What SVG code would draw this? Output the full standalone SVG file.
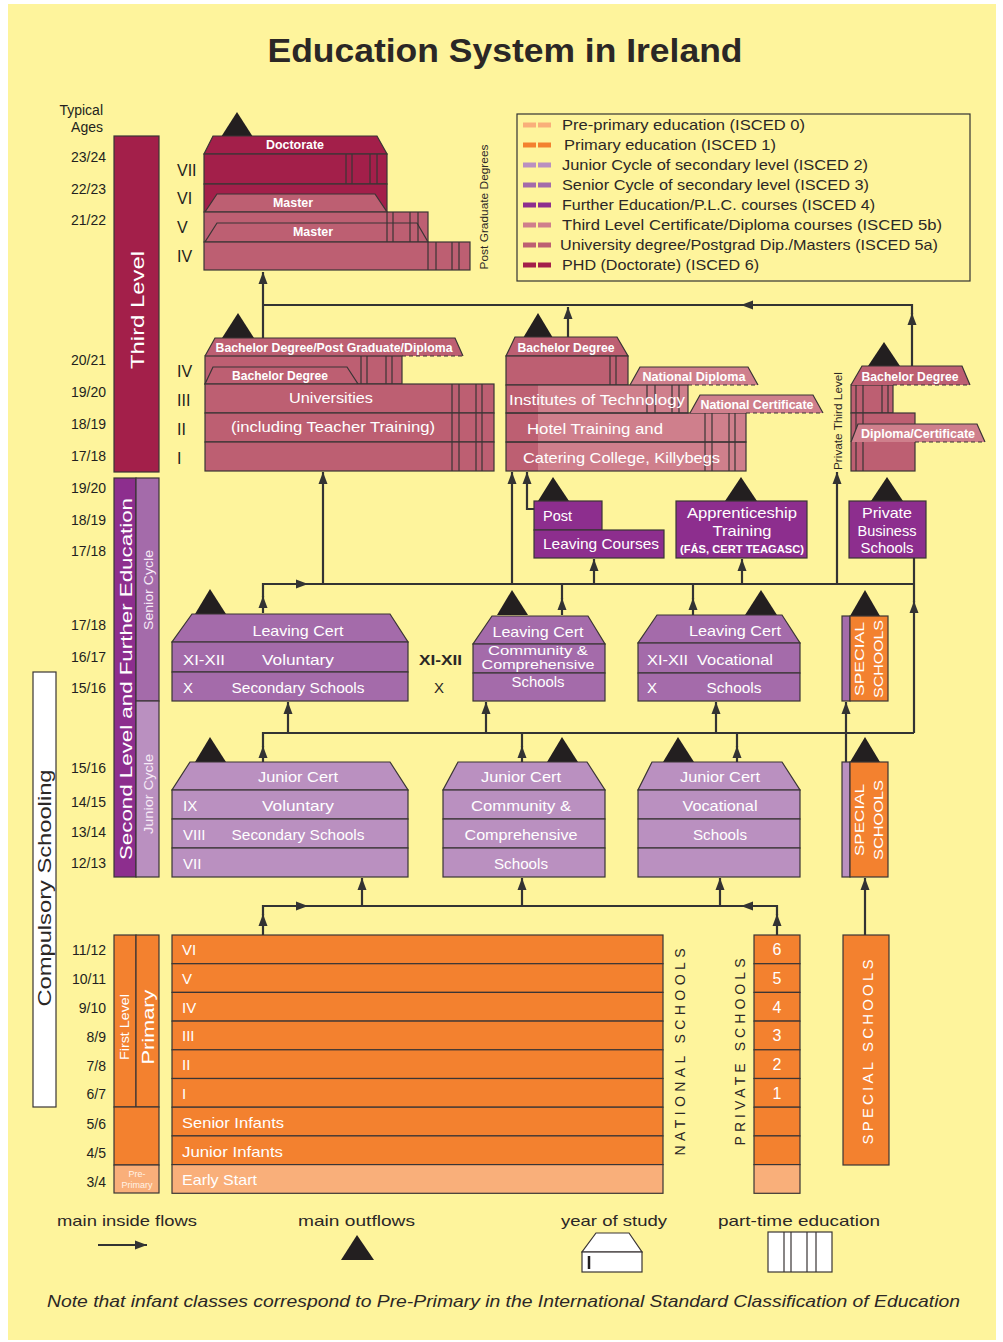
<svg xmlns="http://www.w3.org/2000/svg" width="1003" height="1342" viewBox="0 0 1003 1342">
<defs>
<style>
text{font-family:"Liberation Sans",Arial,sans-serif}
.bx{stroke:#3a3535;stroke-width:1.2}
.nf{fill:none;stroke:#3a3535;stroke-width:1.2}
.dash{stroke:#3a3535;stroke-width:1.2;stroke-dasharray:4 3;fill:none}
.c6{fill:#A31F4A}
.c5a{fill:#BD5F72}
.c5b{fill:#CF7F8C}
.c4{fill:#8D2E8E}
.c3{fill:#A46BAA}
.c2{fill:#BA90C0}
.c1{fill:#F3812F}
.c0{fill:#F9AF7A}
.out{fill:#231F20}
.conn{stroke:#333;stroke-width:2.2;fill:none}
.age{font-size:14px;fill:#231F20;text-anchor:end}
.rn{font-size:16px;fill:#231F20}
.t15{font-size:15px;fill:#fff}
.tb{font-size:12px;font-weight:bold;fill:#fff}
.m{text-anchor:middle}
.lg{font-size:15px;fill:#2b2726}
.sw{stroke-width:5;stroke-dasharray:13 2}
.vt{text-anchor:middle;dominant-baseline:central}
</style>
<marker id="ar" viewBox="0 0 12 10" refX="12" refY="5" markerWidth="12" markerHeight="10" markerUnits="userSpaceOnUse" orient="auto"><path d="M0,0.5 L12,5 L0,9.5 z" fill="#333"/></marker>
</defs>
<rect x="0" y="0" width="1003" height="1342" fill="#fff"/>
<rect x="8" y="4" width="988" height="1336" fill="#FEF49C"/>

<text x="505" y="62" text-anchor="middle" font-size="33" font-weight="bold" fill="#2b2726" textLength="475" lengthAdjust="spacingAndGlyphs">Education System in Ireland</text>

<g id="ages">
<text x="103" y="115" class="age">Typical</text>
<text x="103" y="132" class="age">Ages</text>
<text x="106" y="162" class="age">23/24</text>
<text x="106" y="194" class="age">22/23</text>
<text x="106" y="225" class="age">21/22</text>
<text x="106" y="365" class="age">20/21</text>
<text x="106" y="397" class="age">19/20</text>
<text x="106" y="429" class="age">18/19</text>
<text x="106" y="461" class="age">17/18</text>
<text x="106" y="493" class="age">19/20</text>
<text x="106" y="525" class="age">18/19</text>
<text x="106" y="556" class="age">17/18</text>
<text x="106" y="630" class="age">17/18</text>
<text x="106" y="662" class="age">16/17</text>
<text x="106" y="693" class="age">15/16</text>
<text x="106" y="773" class="age">15/16</text>
<text x="106" y="807" class="age">14/15</text>
<text x="106" y="837" class="age">13/14</text>
<text x="106" y="868" class="age">12/13</text>
<text x="106" y="955" class="age">11/12</text>
<text x="106" y="984" class="age">10/11</text>
<text x="106" y="1013" class="age">9/10</text>
<text x="106" y="1042" class="age">8/9</text>
<text x="106" y="1071" class="age">7/8</text>
<text x="106" y="1099" class="age">6/7</text>
<text x="106" y="1129" class="age">5/6</text>
<text x="106" y="1158" class="age">4/5</text>
<text x="106" y="1187" class="age">3/4</text>
</g>

<g id="level-bars">
<rect x="114" y="136" width="45" height="336" class="c6 bx"/>
<text class="vt" transform="translate(137,310) rotate(-90)" font-size="19" fill="#fff" textLength="118" lengthAdjust="spacingAndGlyphs">Third Level</text>
<rect x="114" y="478" width="22" height="399" class="c4 bx"/>
<rect x="136" y="478" width="23" height="223" class="c3 bx"/>
<rect x="136" y="701" width="23" height="176" class="c2 bx"/>
<text class="vt" transform="translate(126,679) rotate(-90)" font-size="17" fill="#fff" textLength="362" lengthAdjust="spacingAndGlyphs">Second Level and Further Education</text>
<text class="vt" transform="translate(148,590) rotate(-90)" font-size="13" fill="#f6eaf6" textLength="80" lengthAdjust="spacingAndGlyphs">Senior Cycle</text>
<text class="vt" transform="translate(148,794) rotate(-90)" font-size="13" fill="#f6eaf6" textLength="80" lengthAdjust="spacingAndGlyphs">Junior Cycle</text>
<rect x="114" y="935" width="22" height="172" class="c1 bx"/>
<rect x="136" y="935" width="23" height="172" class="c1 bx"/>
<rect x="114" y="1107" width="45" height="58" class="c1 bx"/>
<rect x="114" y="1165" width="45" height="28" class="c0 bx"/>
<text class="vt" transform="translate(125,1027) rotate(-90)" font-size="12" fill="#fff" textLength="66" lengthAdjust="spacingAndGlyphs">First Level</text>
<text class="vt" transform="translate(148,1027) rotate(-90)" font-size="16" fill="#fff" textLength="75" lengthAdjust="spacingAndGlyphs">Primary</text>
<text x="137" y="1177" class="m" font-size="9" fill="#fff3e6">Pre-</text>
<text x="137" y="1188" class="m" font-size="9" fill="#fff3e6">Primary</text>
</g>

<g id="compulsory">
<rect x="33" y="672" width="23" height="435" fill="#fff" class="bx"/>
<text class="vt" transform="translate(45,888) rotate(-90)" font-size="18" fill="#2b2726" textLength="237" lengthAdjust="spacingAndGlyphs">Compulsory Schooling</text>
</g>

<g id="legend">
<rect x="517" y="114" width="453" height="167" fill="none" stroke="#333" stroke-width="1.2"/>
<line x1="523" y1="125" x2="551" y2="125" class="sw" stroke="#F9AF7A"/>
<line x1="523" y1="145" x2="551" y2="145" class="sw" stroke="#F3812F"/>
<line x1="523" y1="165" x2="551" y2="165" class="sw" stroke="#BA90C0"/>
<line x1="523" y1="185" x2="551" y2="185" class="sw" stroke="#A46BAA"/>
<line x1="523" y1="205" x2="551" y2="205" class="sw" stroke="#8D2E8E"/>
<line x1="523" y1="225" x2="551" y2="225" class="sw" stroke="#CF7F8C"/>
<line x1="523" y1="245" x2="551" y2="245" class="sw" stroke="#BD5F72"/>
<line x1="523" y1="265" x2="551" y2="265" class="sw" stroke="#A31F4A"/>
<text x="562" y="130" class="lg" textLength="243" lengthAdjust="spacingAndGlyphs">Pre-primary education (ISCED 0)</text>
<text x="564" y="150" class="lg" textLength="212" lengthAdjust="spacingAndGlyphs">Primary education (ISCED 1)</text>
<text x="562" y="170" class="lg" textLength="306" lengthAdjust="spacingAndGlyphs">Junior Cycle of secondary level (ISCED 2)</text>
<text x="562" y="190" class="lg" textLength="307" lengthAdjust="spacingAndGlyphs">Senior Cycle of secondary level (ISCED 3)</text>
<text x="562" y="210" class="lg" textLength="313" lengthAdjust="spacingAndGlyphs">Further Education/P.L.C. courses (ISCED 4)</text>
<text x="562" y="230" class="lg" textLength="380" lengthAdjust="spacingAndGlyphs">Third Level Certificate/Diploma courses (ISCED 5b)</text>
<text x="560" y="250" class="lg" textLength="378" lengthAdjust="spacingAndGlyphs">University degree/Postgrad Dip./Masters (ISCED 5a)</text>
<text x="562" y="270" class="lg" textLength="197" lengthAdjust="spacingAndGlyphs">PHD (Doctorate) (ISCED 6)</text>
</g>

<g id="postgraduate">
<polygon points="237,112 221,137 253,137" class="out"/>
<polygon points="213,136 377,136 387,154 204,154" class="c6 bx"/>
<text x="295" y="149" class="tb m" textLength="58" lengthAdjust="spacingAndGlyphs">Doctorate</text>
<rect x="204" y="154" width="183" height="30" class="c6 bx"/>
<path d="M346,154V184M352,154V184M370,154V184M377,154V184" class="nf"/>
<rect x="204" y="184" width="183" height="28" class="c6 bx"/>
<polygon points="217,194 375,194 387,212 205,212" class="c5a bx"/>
<text x="293" y="207" class="tb m" textLength="40" lengthAdjust="spacingAndGlyphs">Master</text>
<rect x="204" y="212" width="224" height="30" class="c5a bx"/>
<polygon points="217,223 417,223 428,242 205,242" class="c5a bx"/>
<path d="M387,212V242M393,212V242M410,212V242M418,212V242" class="nf"/>
<text x="313" y="236" class="tb m" textLength="40" lengthAdjust="spacingAndGlyphs">Master</text>
<rect x="204" y="242" width="266" height="28" class="c5a bx"/>
<path d="M428,242V270M436,242V270M452,242V270M459,242V270" class="nf"/>
<text x="177" y="176" class="rn">VII</text>
<text x="177" y="204" class="rn">VI</text>
<text x="177" y="233" class="rn">V</text>
<text x="177" y="262" class="rn">IV</text>
<text class="vt" transform="translate(484,207) rotate(-90)" font-size="11" fill="#2b2726" textLength="125" lengthAdjust="spacingAndGlyphs">Post Graduate Degrees</text>
</g>

<g id="universities">
<polygon points="238,313 222,338 254,338" class="out"/>
<polygon points="215,338 455,338 463,356 205,356" class="c5a"/>
<polyline points="205,356 215,338 455,338 463,356" class="nf"/>
<line x1="402" y1="356" x2="463" y2="356" class="dash"/>
<text x="334" y="352" class="tb m" textLength="237" lengthAdjust="spacingAndGlyphs">Bachelor Degree/Post Graduate/Diploma</text>
<rect x="205" y="356" width="197" height="28" class="c5a bx"/>
<path d="M361,356V384M367,356V384M386,356V384M392,356V384" class="nf"/>
<polygon points="213,367 347,367 358,384 205,384" class="c5a bx"/>
<text x="280" y="380" class="tb m" textLength="96" lengthAdjust="spacingAndGlyphs">Bachelor Degree</text>
<rect x="205" y="384" width="289" height="29" class="c5a bx"/>
<rect x="205" y="413" width="289" height="29" class="c5a bx"/>
<rect x="205" y="442" width="289" height="29" class="c5a bx"/>
<path d="M452,384V471M459,384V471M476,384V471M482,384V471" class="nf"/>
<text x="331" y="403" class="t15 m" textLength="84" lengthAdjust="spacingAndGlyphs">Universities</text>
<text x="333" y="432" class="t15 m" textLength="204" lengthAdjust="spacingAndGlyphs">(including Teacher Training)</text>
<text x="177" y="377" class="rn">IV</text>
<text x="177" y="406" class="rn">III</text>
<text x="177" y="435" class="rn">II</text>
<text x="177" y="464" class="rn">I</text>
</g>

<g id="institutes-of-technology">
<polygon points="538,313 523,338 553,338" class="out"/>
<polygon points="515,337 617,337 628,356 506,356" class="c5a bx"/>
<text x="566" y="352" class="tb m" textLength="97" lengthAdjust="spacingAndGlyphs">Bachelor Degree</text>
<rect x="506" y="356" width="122" height="29" class="c5a bx"/>
<path d="M610,356V385M616,356V385" class="nf"/>
<polygon points="640,367 748,367 758,385 630,385" class="c5b"/>
<polyline points="630,385 640,367 748,367 758,385" class="nf"/>
<line x1="688" y1="385" x2="758" y2="385" class="dash"/>
<text x="694" y="381" class="tb m" textLength="103" lengthAdjust="spacingAndGlyphs">National Diploma</text>
<rect x="506" y="385" width="182" height="28" class="c5b"/>
<rect x="506" y="413" width="240" height="58" class="c5b"/>
<rect x="506" y="385" width="32" height="86" class="c5a"/>
<rect x="506" y="385" width="182" height="28" class="nf"/>
<rect x="506" y="413" width="240" height="29" class="nf"/>
<rect x="506" y="442" width="240" height="29" class="nf"/>
<path d="M647,385V413M655,385V413M672,385V413M679,385V413M705,413V471M712,413V471M729,413V471M735,413V471" class="nf"/>
<polygon points="700,395 813,395 823,413 690,413" class="c5b"/>
<polyline points="690,413 700,395 813,395 823,413" class="nf"/>
<line x1="746" y1="413" x2="823" y2="413" class="dash"/>
<text x="757" y="409" class="tb m" textLength="113" lengthAdjust="spacingAndGlyphs">National Certificate</text>
<text x="509" y="405" class="t15" textLength="176" lengthAdjust="spacingAndGlyphs">Institutes of Technology</text>
<text x="527" y="434" class="t15" textLength="136" lengthAdjust="spacingAndGlyphs">Hotel Training and</text>
<text x="523" y="463" class="t15" textLength="197" lengthAdjust="spacingAndGlyphs">Catering College, Killybegs</text>
</g>

<g id="private-third-level">
<text class="vt" transform="translate(838,421) rotate(-90)" font-size="11" fill="#2b2726" textLength="98" lengthAdjust="spacingAndGlyphs">Private Third Level</text>
<polygon points="884,342 868,366 900,366" class="out"/>
<rect x="851" y="385" width="42" height="28" class="c5a bx"/>
<rect x="851" y="413" width="64" height="58" class="c5a bx"/>
<path d="M856,385V471M863,385V471M882,385V413M888,385V413" class="nf"/>
<polygon points="862,366 962,366 970,385 851,385" class="c5a"/>
<polyline points="851,385 862,366 962,366 970,385" class="nf"/>
<line x1="893" y1="385" x2="970" y2="385" class="dash"/>
<text x="910" y="381" class="tb m" textLength="97" lengthAdjust="spacingAndGlyphs">Bachelor Degree</text>
<polygon points="858,424 977,424 985,442 851,442" class="c5b"/>
<polyline points="851,442 858,424 977,424 985,442" class="nf"/>
<line x1="915" y1="442" x2="985" y2="442" class="dash"/>
<text x="918" y="438" class="tb m" textLength="114" lengthAdjust="spacingAndGlyphs">Diploma/Certificate</text>
</g>

<g id="post-leaving-courses">
<polygon points="553,477 538,501 569,501" class="out"/>
<rect x="534" y="501" width="68" height="29" class="c4 bx"/>
<rect x="534" y="530" width="130" height="28" class="c4 bx"/>
<text x="543" y="521" class="t15" textLength="29" lengthAdjust="spacingAndGlyphs">Post</text>
<text x="543" y="549" class="t15" textLength="116" lengthAdjust="spacingAndGlyphs">Leaving Courses</text>
</g>

<g id="apprenticeship">
<polygon points="741,477 725,501 757,501" class="out"/>
<rect x="676" y="501" width="131" height="57" class="c4 bx"/>
<text x="742" y="518" class="t15 m" textLength="110" lengthAdjust="spacingAndGlyphs">Apprenticeship</text>
<text x="742" y="536" class="t15 m" textLength="59" lengthAdjust="spacingAndGlyphs">Training</text>
<text x="742" y="553" class="m" font-size="10" font-weight="bold" fill="#fff" textLength="124" lengthAdjust="spacingAndGlyphs">(FÁS, CERT TEAGASC)</text>
</g>

<g id="private-business-schools">
<polygon points="887,477 871,501 903,501" class="out"/>
<rect x="849" y="501" width="77" height="57" class="c4 bx"/>
<text x="887" y="518" class="t15 m" textLength="50" lengthAdjust="spacingAndGlyphs">Private</text>
<text x="887" y="536" class="t15 m" textLength="59" lengthAdjust="spacingAndGlyphs">Business</text>
<text x="887" y="553" class="t15 m" textLength="53" lengthAdjust="spacingAndGlyphs">Schools</text>
</g>

<g id="lc-voluntary-secondary">
<polygon points="210,589 195,614 226,614" class="out"/>
<polygon points="192,614 390,614 408,642 172,642" class="c3 bx"/>
<rect x="172" y="642" width="236" height="30" class="c3 bx"/>
<rect x="172" y="672" width="236" height="29" class="c3 bx"/>
<text x="298" y="636" class="t15 m" textLength="91" lengthAdjust="spacingAndGlyphs">Leaving Cert</text>
<text x="183" y="665" class="t15" textLength="42" lengthAdjust="spacingAndGlyphs">XI-XII</text>
<text x="298" y="665" class="t15 m" textLength="72" lengthAdjust="spacingAndGlyphs">Voluntary</text>
<text x="183" y="693" class="t15">X</text>
<text x="298" y="693" class="t15 m" textLength="133" lengthAdjust="spacingAndGlyphs">Secondary Schools</text>
</g>

<g id="senior-years">
<text x="419" y="665" font-size="15" font-weight="bold" fill="#2b2726" textLength="43" lengthAdjust="spacingAndGlyphs">XI-XII</text>
<text x="434" y="693" font-size="15" fill="#2b2726">X</text>
</g>

<g id="lc-community-comprehensive">
<polygon points="512,590 497,615 528,615" class="out"/>
<polygon points="492,616 588,616 605,644 473,644" class="c3 bx"/>
<rect x="473" y="644" width="132" height="29" class="c3 bx"/>
<rect x="473" y="673" width="132" height="28" class="c3 bx"/>
<text x="538" y="637" class="t15 m" textLength="91" lengthAdjust="spacingAndGlyphs">Leaving Cert</text>
<text x="538" y="655" class="m" font-size="13" fill="#fff" textLength="100" lengthAdjust="spacingAndGlyphs">Community &amp;</text>
<text x="538" y="669" class="m" font-size="13" fill="#fff" textLength="113" lengthAdjust="spacingAndGlyphs">Comprehensive</text>
<text x="538" y="687" class="t15 m" textLength="53" lengthAdjust="spacingAndGlyphs">Schools</text>
</g>

<g id="lc-vocational">
<polygon points="761,590 745,615 777,615" class="out"/>
<polygon points="657,615 782,615 800,643 638,643" class="c3 bx"/>
<rect x="638" y="643" width="162" height="30" class="c3 bx"/>
<rect x="638" y="673" width="162" height="28" class="c3 bx"/>
<text x="735" y="636" class="t15 m" textLength="92" lengthAdjust="spacingAndGlyphs">Leaving Cert</text>
<text x="647" y="665" class="t15" textLength="41" lengthAdjust="spacingAndGlyphs">XI-XII</text>
<text x="697" y="665" class="t15" textLength="76" lengthAdjust="spacingAndGlyphs">Vocational</text>
<text x="647" y="693" class="t15">X</text>
<text x="734" y="693" class="t15 m" textLength="55" lengthAdjust="spacingAndGlyphs">Schools</text>
</g>

<g id="special-schools-senior">
<polygon points="865,590 850,616 880,616" class="out"/>
<rect x="842" y="616" width="8" height="85" class="c3 bx"/>
<rect x="850" y="616" width="38" height="85" class="c1 bx"/>
<text class="vt" transform="translate(860,659) rotate(-90)" font-size="12" fill="#fff" textLength="74" lengthAdjust="spacingAndGlyphs">SPECIAL</text>
<text class="vt" transform="translate(879,659) rotate(-90)" font-size="12" fill="#fff" textLength="78" lengthAdjust="spacingAndGlyphs">SCHOOLS</text>
</g>

<g id="jc-voluntary-secondary">
<polygon points="210,737 195,762 226,762" class="out"/>
<polygon points="190,762 390,762 408,790 172,790" class="c2 bx"/>
<rect x="172" y="790" width="236" height="29" class="c2 bx"/>
<rect x="172" y="819" width="236" height="29" class="c2 bx"/>
<rect x="172" y="848" width="236" height="29" class="c2 bx"/>
<text x="298" y="782" class="t15 m" textLength="80" lengthAdjust="spacingAndGlyphs">Junior Cert</text>
<text x="183" y="811" class="t15">IX</text>
<text x="298" y="811" class="t15 m" textLength="72" lengthAdjust="spacingAndGlyphs">Voluntary</text>
<text x="183" y="840" class="t15">VIII</text>
<text x="298" y="840" class="t15 m" textLength="133" lengthAdjust="spacingAndGlyphs">Secondary Schools</text>
<text x="183" y="869" class="t15">VII</text>
</g>

<g id="jc-community-comprehensive">
<polygon points="562,737 547,762 578,762" class="out"/>
<polygon points="458,762 587,762 605,790 443,790" class="c2 bx"/>
<rect x="443" y="790" width="162" height="29" class="c2 bx"/>
<rect x="443" y="819" width="162" height="29" class="c2 bx"/>
<rect x="443" y="848" width="162" height="29" class="c2 bx"/>
<text x="521" y="782" class="t15 m" textLength="80" lengthAdjust="spacingAndGlyphs">Junior Cert</text>
<text x="521" y="811" class="t15 m" textLength="100" lengthAdjust="spacingAndGlyphs">Community &amp;</text>
<text x="521" y="840" class="t15 m" textLength="113" lengthAdjust="spacingAndGlyphs">Comprehensive</text>
<text x="521" y="869" class="t15 m" textLength="54" lengthAdjust="spacingAndGlyphs">Schools</text>
</g>

<g id="jc-vocational">
<polygon points="678,737 663,762 694,762" class="out"/>
<polygon points="652,762 782,762 800,790 638,790" class="c2 bx"/>
<rect x="638" y="790" width="162" height="29" class="c2 bx"/>
<rect x="638" y="819" width="162" height="29" class="c2 bx"/>
<rect x="638" y="848" width="162" height="29" class="c2 bx"/>
<text x="720" y="782" class="t15 m" textLength="80" lengthAdjust="spacingAndGlyphs">Junior Cert</text>
<text x="720" y="811" class="t15 m" textLength="75" lengthAdjust="spacingAndGlyphs">Vocational</text>
<text x="720" y="840" class="t15 m" textLength="54" lengthAdjust="spacingAndGlyphs">Schools</text>
</g>

<g id="special-schools-junior">
<polygon points="865,737 850,762 880,762" class="out"/>
<rect x="842" y="762" width="8" height="115" class="c2 bx"/>
<rect x="850" y="762" width="38" height="115" class="c1 bx"/>
<text class="vt" transform="translate(860,820) rotate(-90)" font-size="12" fill="#fff" textLength="72" lengthAdjust="spacingAndGlyphs">SPECIAL</text>
<text class="vt" transform="translate(879,820) rotate(-90)" font-size="12" fill="#fff" textLength="80" lengthAdjust="spacingAndGlyphs">SCHOOLS</text>
</g>

<g id="national-schools">
<rect x="172" y="935" width="491" height="28.7" class="c1 bx"/>
<rect x="172" y="963.7" width="491" height="28.7" class="c1 bx"/>
<rect x="172" y="992.4" width="491" height="28.7" class="c1 bx"/>
<rect x="172" y="1021.1" width="491" height="28.7" class="c1 bx"/>
<rect x="172" y="1049.8" width="491" height="28.7" class="c1 bx"/>
<rect x="172" y="1078.5" width="491" height="28.7" class="c1 bx"/>
<rect x="172" y="1107.2" width="491" height="28.7" class="c1 bx"/>
<rect x="172" y="1135.9" width="491" height="28.7" class="c1 bx"/>
<rect x="172" y="1164.6" width="491" height="28.7" class="c0 bx"/>
<text x="182" y="955" class="t15">VI</text>
<text x="182" y="984" class="t15">V</text>
<text x="182" y="1013" class="t15">IV</text>
<text x="182" y="1041" class="t15">III</text>
<text x="182" y="1070" class="t15">II</text>
<text x="182" y="1099" class="t15">I</text>
<text x="182" y="1128" class="t15" textLength="102" lengthAdjust="spacingAndGlyphs">Senior Infants</text>
<text x="182" y="1157" class="t15" textLength="101" lengthAdjust="spacingAndGlyphs">Junior Infants</text>
<text x="182" y="1185" class="t15" textLength="75" lengthAdjust="spacingAndGlyphs">Early Start</text>
<text class="vt" transform="translate(680,1052) rotate(-90)" font-size="14" fill="#2b2726" textLength="207" lengthAdjust="spacing">NATIONAL SCHOOLS</text>
</g>

<g id="private-schools">
<rect x="754" y="935" width="46" height="28.7" class="c1 bx"/>
<rect x="754" y="963.7" width="46" height="28.7" class="c1 bx"/>
<rect x="754" y="992.4" width="46" height="28.7" class="c1 bx"/>
<rect x="754" y="1021.1" width="46" height="28.7" class="c1 bx"/>
<rect x="754" y="1049.8" width="46" height="28.7" class="c1 bx"/>
<rect x="754" y="1078.5" width="46" height="28.7" class="c1 bx"/>
<rect x="754" y="1107.2" width="46" height="28.7" class="c1 bx"/>
<rect x="754" y="1135.9" width="46" height="28.7" class="c1 bx"/>
<rect x="754" y="1164.6" width="46" height="28.7" class="c0 bx"/>
<text x="777" y="955" class="m" font-size="16" fill="#fff">6</text>
<text x="777" y="984" class="m" font-size="16" fill="#fff">5</text>
<text x="777" y="1013" class="m" font-size="16" fill="#fff">4</text>
<text x="777" y="1041" class="m" font-size="16" fill="#fff">3</text>
<text x="777" y="1070" class="m" font-size="16" fill="#fff">2</text>
<text x="777" y="1099" class="m" font-size="16" fill="#fff">1</text>
<text class="vt" transform="translate(740,1052) rotate(-90)" font-size="14" fill="#2b2726" textLength="187" lengthAdjust="spacing">PRIVATE SCHOOLS</text>
</g>

<g id="special-schools-primary">
<rect x="843" y="935" width="46" height="230" class="c1 bx"/>
<text class="vt" transform="translate(867,1052) rotate(-90)" font-size="15" fill="#fff" textLength="185" lengthAdjust="spacing">SPECIAL SCHOOLS</text>
</g>

<g id="connectors">
<path d="M263,338V272" class="conn" marker-end="url(#ar)"/>
<path d="M568,337V307" class="conn" marker-end="url(#ar)"/>
<path d="M912,366V313" class="conn" marker-end="url(#ar)"/>
<path d="M912,314V305H741" class="conn" marker-end="url(#ar)"/>
<path d="M742,305H263" class="conn"/>
<path d="M263,613V596" class="conn" marker-end="url(#ar)"/>
<path d="M263,597V584H308" class="conn" marker-end="url(#ar)"/>
<path d="M307,584H914" class="conn"/>
<path d="M562,615V598" class="conn" marker-end="url(#ar)"/>
<path d="M562,599V584" class="conn"/>
<path d="M693,615V598" class="conn" marker-end="url(#ar)"/>
<path d="M693,599V584" class="conn"/>
<path d="M323,584V472" class="conn" marker-end="url(#ar)"/>
<path d="M512,584V472" class="conn" marker-end="url(#ar)"/>
<path d="M534,509H527V472" class="conn" marker-end="url(#ar)"/>
<path d="M594,584V559" class="conn" marker-end="url(#ar)"/>
<path d="M742,584V559" class="conn" marker-end="url(#ar)"/>
<path d="M837,584V472" class="conn" marker-end="url(#ar)"/>
<path d="M914,733V601" class="conn" marker-end="url(#ar)"/>
<path d="M914,602V558" class="conn"/>
<path d="M263,762V746" class="conn" marker-end="url(#ar)"/>
<path d="M263,747V733H914" class="conn"/>
<path d="M522,762V746" class="conn" marker-end="url(#ar)"/>
<path d="M522,747V733" class="conn"/>
<path d="M737,762V746" class="conn" marker-end="url(#ar)"/>
<path d="M737,747V733" class="conn"/>
<path d="M288,733V702" class="conn" marker-end="url(#ar)"/>
<path d="M486,733V702" class="conn" marker-end="url(#ar)"/>
<path d="M716,733V702" class="conn" marker-end="url(#ar)"/>
<path d="M846,762V702" class="conn" marker-end="url(#ar)"/>
<path d="M263,935V914" class="conn" marker-end="url(#ar)"/>
<path d="M263,915V906H308" class="conn" marker-end="url(#ar)"/>
<path d="M307,906H742" class="conn"/>
<path d="M777,935V914" class="conn" marker-end="url(#ar)"/>
<path d="M777,915V906H741" class="conn" marker-end="url(#ar)"/>
<path d="M362,906V878" class="conn" marker-end="url(#ar)"/>
<path d="M522,906V878" class="conn" marker-end="url(#ar)"/>
<path d="M720,906V878" class="conn" marker-end="url(#ar)"/>
<path d="M865,935V878" class="conn" marker-end="url(#ar)"/>
</g>

<g id="key">
<text x="57" y="1226" class="lg" textLength="140" lengthAdjust="spacingAndGlyphs">main inside flows</text>
<path d="M98,1245H147" class="conn" marker-end="url(#ar)"/>
<text x="298" y="1226" class="lg" textLength="117" lengthAdjust="spacingAndGlyphs">main outflows</text>
<polygon points="357,1235 341,1260 374,1260" class="out"/>
<text x="561" y="1226" class="lg" textLength="106" lengthAdjust="spacingAndGlyphs">year of study</text>
<polygon points="596,1233 629,1233 642,1252 582,1252" fill="#fff" class="bx"/>
<rect x="582" y="1252" width="60" height="20" fill="#fff" class="bx"/>
<line x1="589" y1="1256" x2="589" y2="1269" stroke="#231F20" stroke-width="2.5"/>
<text x="718" y="1226" class="lg" textLength="162" lengthAdjust="spacingAndGlyphs">part-time education</text>
<rect x="768" y="1232" width="64" height="40" fill="#fff" class="bx"/>
<path d="M784,1232V1272M791,1232V1272M807,1232V1272M816,1232V1272" class="nf"/>
<text x="47" y="1307" font-size="17" font-style="italic" fill="#2b2726" textLength="913" lengthAdjust="spacingAndGlyphs">Note that infant classes correspond to Pre-Primary in the International Standard Classification of Education</text>
</g>
</svg>
